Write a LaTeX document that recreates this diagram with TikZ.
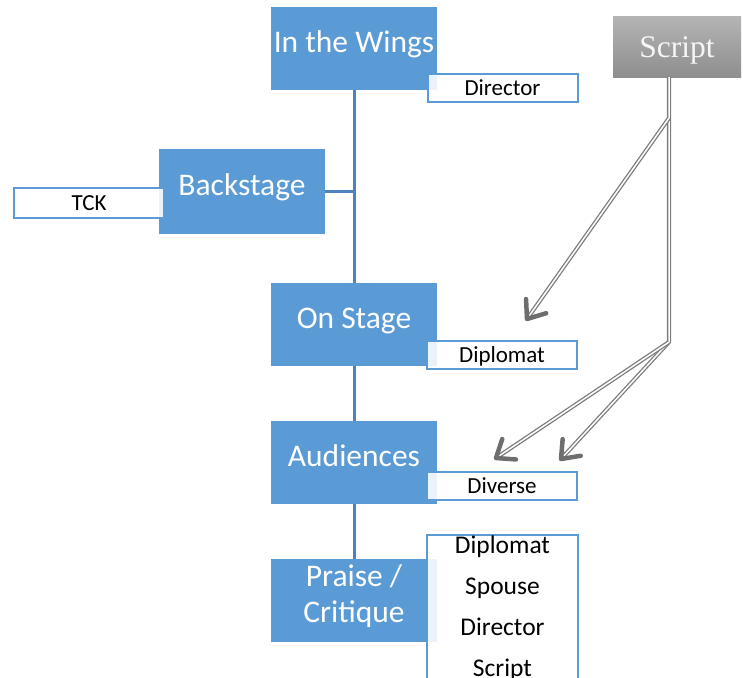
\documentclass[tikz,border=0pt]{standalone}
\usepackage{fontspec}
\setmainfont{Carlito}
\newfontfamily\scriptserif{Liberation Serif}
\usetikzlibrary{calc}
\definecolor{boxblue}{RGB}{91,155,213}
\definecolor{lineblue}{RGB}{79,129,189}
\definecolor{arrowgray}{RGB}{125,125,125}
\definecolor{chevgray}{RGB}{110,110,110}
\definecolor{scripttop}{RGB}{180,180,180}
\definecolor{scriptbot}{RGB}{142,142,142}
\begin{document}
\begin{tikzpicture}[x=1pt,y=-1pt,
  bluebox/.style={fill=boxblue, minimum width=166pt, minimum height=83pt, inner sep=0pt,
    text=white, font=\fontsize{31.5}{36}\selectfont, text height=20pt, text depth=12pt},
  bluetext/.style={text=white, font=\fontsize{31.5}{36}\selectfont, inner sep=0pt, anchor=base},
  tag/.style={draw=boxblue, line width=2pt, fill=white, fill opacity=0.88, text opacity=1,
    minimum width=150pt, minimum height=28pt, inner sep=0pt,
    font=\fontsize{23}{26}\selectfont, text height=15pt, text depth=0pt},
  listtext/.style={font=\fontsize{25.5}{30}\selectfont, inner sep=0pt, anchor=base},
  scriptbox/.style={top color=scripttop, bottom color=scriptbot, draw=none,
    minimum width=128pt, minimum height=60pt, inner sep=0pt,
    text={rgb,255:red,246;green,246;blue,246},
    font=\scriptserif\fontsize{31.5}{36}\selectfont, text height=21pt, text depth=0pt},
  link/.style={draw=lineblue, line width=3pt},
  dbl/.style={draw=arrowgray, line width=1.3pt, double=white, double distance=1.5pt, line join=round},
  chev/.style={draw=chevgray, line width=4.5pt, line cap=round, line join=round}
]
\useasboundingbox (0,0) rectangle (743,677);

% main boxes
\node[bluebox] (wings) at (354,48.5) {In the Wings};
\node[bluebox, minimum height=85pt] (back) at (242,191.5) {Backstage};
\node[bluebox] (stage) at (354,324.5) {On Stage};
\node[bluebox] (aud) at (354,462.5) {Audiences};
\node[bluebox] (praise) at (354,600.5) {};
\node[bluetext] (praise1) at (354,586) {Praise /};
\node[bluetext] (praise2) at (354,622) {Critique};

% connectors
\draw[link] (wings.south) -- (stage.north);
\draw[link] (back.east) -- (back.east -| wings.south);
\draw[link] (stage.south) -- (aud.north);
\draw[link] (aud.south) -- (praise.north);

% tags
\node[tag] (director) at (502.5,87.5) {Director};
\node[tag, minimum height=30pt] (tck) at (89,202.5) {TCK};
\node[tag] (diplomat) at (502,354.5) {Diplomat};
\node[tag] (diverse) at (502,485.5) {Diverse};
\node[tag, minimum height=160pt, minimum width=151pt] (list) at (502.5,615) {};
\node[listtext] (l1) at (502.5,553) {Diplomat};
\node[listtext] (l2) at (502.5,594) {Spouse};
\node[listtext] (l3) at (502.5,635) {Director};
\node[listtext] (l4) at (502.5,676) {Script};

% script box
\node[scriptbox] (script) at (677,47) {Script};

% arrows
\coordinate (s1) at (669,118);
\coordinate (s2) at (669,342);
\coordinate (t1) at (527,319);
\coordinate (t2) at (496,458);
\coordinate (t3) at (561,459);

\draw[dbl] (script.south -| s1) -- (s2) -- (t3);
\draw[dbl] (s1) -- (t1);
\draw[dbl] (s2) -- (t2);
\draw[chev] ($(t1)!20pt!38:(s1)$) -- (t1) -- ($(t1)!20pt!-38:(s1)$);
\draw[chev] ($(t2)!20pt!38:(s2)$) -- (t2) -- ($(t2)!20pt!-38:(s2)$);
\draw[chev] ($(t3)!20pt!38:(s2)$) -- (t3) -- ($(t3)!20pt!-38:(s2)$);
\end{tikzpicture}
\end{document}
